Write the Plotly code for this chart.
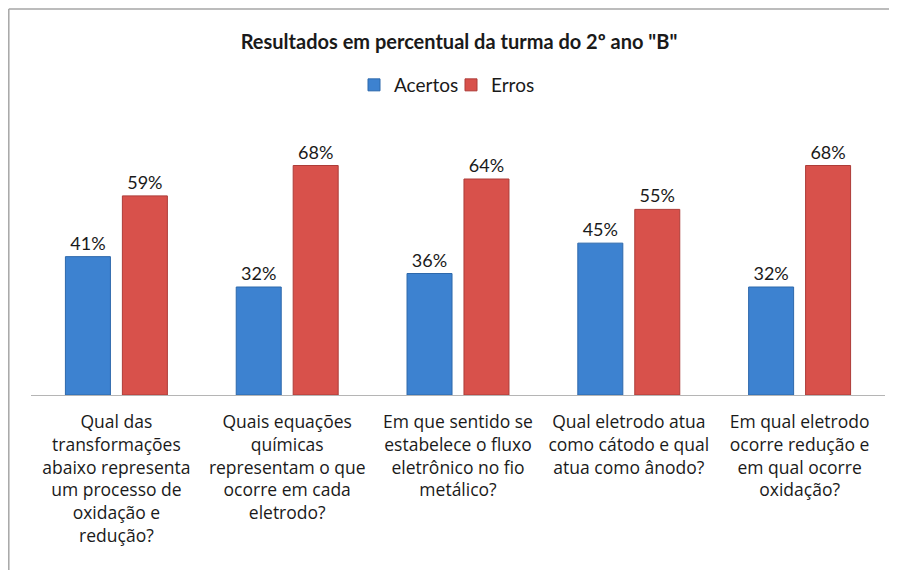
import plotly.graph_objects as go

categories = [
    "Qual das<br>transformações<br>abaixo representa<br>um processo de<br>oxidação e<br>redução?",
    "Quais equações<br>químicas<br>representam o que<br>ocorre em cada<br>eletrodo?",
    "Em que sentido se<br>estabelece o fluxo<br>eletrônico no fio<br>metálico?",
    "Qual eletrodo atua<br>como cátodo e qual<br>atua como ânodo?",
    "Em qual eletrodo<br>ocorre redução e<br>em qual ocorre<br>oxidação?",
]
acertos = [41, 32, 36, 45, 32]
erros = [59, 68, 64, 55, 68]

FONT = "Lato"
TXT = "#1a1a1a"

fig = go.Figure()
fig.add_trace(go.Bar(
    name="Acertos", x=categories, y=acertos,
    text=[f"{v}%" for v in acertos], textposition="outside",
    textfont=dict(family=FONT, size=18, color=TXT),
    marker=dict(color="#3d82d0", line=dict(color="#2d68ab", width=1)),
    cliponaxis=False,
))
fig.add_trace(go.Bar(
    name="Erros", x=categories, y=erros,
    text=[f"{v}%" for v in erros], textposition="outside",
    textfont=dict(family=FONT, size=18, color=TXT),
    marker=dict(color="#d8514b", line=dict(color="#ad3c38", width=1)),
    cliponaxis=False,
))

# page has an 8px body margin; work in figure coordinates
OFF = 8
W, H = 897 - OFF, 570 - OFF
L, R, T, B = 31 - OFF, 897 - 885, 125 - OFF, 570 - 395
pw, ph = W - L - R, H - T - B

def px_x(x):
    return (x - OFF - L) / pw

def px_y(y):
    return (H - B - (y - OFF)) / ph

fig.update_layout(
    width=W, height=H,
    margin=dict(l=L, r=R, t=T, b=B, autoexpand=False),
    paper_bgcolor="white", plot_bgcolor="white",
    barmode="group", bargap=0.333, bargroupgap=0.21,
    font=dict(family=FONT, size=17, color=TXT),
    title=dict(
        text="<b>Resultados em percentual da turma do 2º ano \"B\"</b>",
        x=(459 - OFF) / W, xanchor="center", y=1 - (42 - OFF) / H, yanchor="middle",
        font=dict(family=FONT, size=20, color=TXT),
    ),
    legend=dict(
        orientation="h", x=px_x(451), xanchor="center",
        y=px_y(85), yanchor="middle",
        font=dict(family=FONT, size=19, color=TXT),
        itemwidth=30, entrywidth=52, traceorder="normal",
    ),
    showlegend=True,
    xaxis=dict(
        showline=True, linecolor="#b5b5b5", linewidth=1, automargin=False,
        showgrid=False, ticks="", tickfont=dict(family="Open Sans", size=17.5, color=TXT),
        ticklabelstandoff=11,
    ),
    yaxis=dict(range=[0, 80], visible=False, showgrid=False, automargin=False),
    shapes=[
        dict(type="line", xref="paper", yref="paper",
             x0=px_x(8.8), x1=px_x(8.8), y0=px_y(9), y1=px_y(575),
             line=dict(color="#a6a6a6", width=1.5)),
        dict(type="line", xref="paper", yref="paper",
             x0=px_x(8.8), x1=px_x(900), y0=px_y(9), y1=px_y(9),
             line=dict(color="#a6a6a6", width=1.5)),
    ],
)

fig.write_html("out.html")
